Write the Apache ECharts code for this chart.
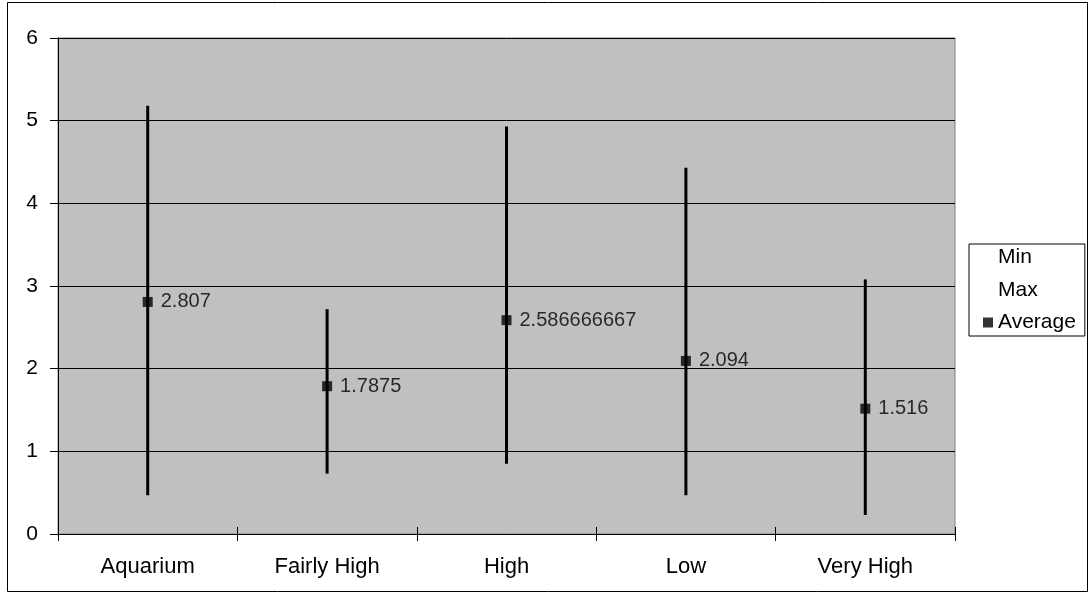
<!DOCTYPE html>
<html>
<head>
<meta charset="utf-8">
<script src="https://cdn.jsdelivr.net/npm/echarts@6/dist/echarts.min.js"></script>
<style>
html,body{margin:0;padding:0;background:#fff;}
#c{width:1091px;height:594px;}
</style>
</head>
<body>
<div id="c"></div>
<script>
const categories = ['Aquarium', 'Fairly High', 'High', 'Low', 'Very High'];
const minVals = [0.47, 0.73, 0.85, 0.47, 0.23];
const maxVals = [5.18, 2.72, 4.93, 4.43, 3.08];
const avgVals = [2.807, 1.7875, 2.586666667, 2.094, 1.516];
const yTicks = [0, 1, 2, 3, 4, 5, 6];

const FONT = 'Liberation Sans, Arial, sans-serif';
const chart = echarts.init(document.getElementById('c'), null, {renderer: 'canvas'});

const option = {
  backgroundColor: '#fff',
  animation: false,
  textStyle: {fontFamily: FONT, color: '#000'},
  graphic: [{
    type: 'rect', silent: true, z: -10,
    shape: {x: 7.5, y: 2.5, width: 1080, height: 589},
    style: {fill: 'none', stroke: '#000', lineWidth: 1}
  }],
  grid: {
    left: 58, top: 38, right: 136, bottom: 60,
    show: true, backgroundColor: '#C0C0C0', borderColor: '#808080', borderWidth: 1
  },
  legend: {
    orient: 'vertical', left: 969, top: 244,
    padding: [3, 9, 3, 14],
    itemGap: 11.5, itemWidth: 10, itemHeight: 10,
    borderColor: '#000', borderWidth: 1, backgroundColor: '#fff',
    textStyle: {fontFamily: FONT, fontSize: 21, lineHeight: 20, color: '#000'},
    data: [
      {name: 'Min', icon: 'rect', itemStyle: {color: 'rgba(0,0,0,0)', borderWidth: 0}},
      {name: 'Max', icon: 'rect', itemStyle: {color: 'rgba(0,0,0,0)', borderWidth: 0}},
      {name: 'Average', icon: 'rect', itemStyle: {color: '#000'}}
    ]
  },
  xAxis: [{
    type: 'category', data: categories, boundaryGap: true,
    axisLine: {show: true, lineStyle: {color: '#000', width: 1}},
    axisTick: {show: true, length: 7, inside: false, lineStyle: {color: '#000'}},
    axisLabel: {fontFamily: FONT, fontSize: 22, color: '#000', margin: 22},
    splitLine: {show: false}
  }, {
    type: 'category', data: categories, boundaryGap: true, position: 'bottom',
    axisLine: {show: false},
    axisTick: {show: true, length: 7, inside: true, lineStyle: {color: '#000'}},
    axisLabel: {show: false},
    splitLine: {show: false}
  }],
  yAxis: {
    type: 'value', min: yTicks[0], max: yTicks[yTicks.length - 1], interval: 1,
    axisLine: {show: true, lineStyle: {color: '#000', width: 1}},
    axisTick: {show: true, length: 8, lineStyle: {color: '#000'}},
    axisLabel: {fontFamily: FONT, fontSize: 21, color: '#000', margin: 20},
    splitLine: {show: true, lineStyle: {color: '#000', width: 1}}
  },
  series: [
    {name: 'Min', type: 'scatter', data: minVals, symbolSize: 0, silent: true,
     itemStyle: {color: 'rgba(0,0,0,0)'}},
    {name: 'Max', type: 'scatter', data: maxVals, symbolSize: 0, silent: true,
     itemStyle: {color: 'rgba(0,0,0,0)'}},
    {name: 'HiLo', type: 'custom', silent: true, z: 3,
     data: categories.map((c, i) => [i, minVals[i], maxVals[i]]),
     renderItem: function (params, api) {
       const x = api.value(0);
       const lo = api.coord([x, api.value(1)]);
       const hi = api.coord([x, api.value(2)]);
       return {type: 'line',
         shape: {x1: lo[0], y1: lo[1], x2: hi[0], y2: hi[1]},
         style: {stroke: '#000', lineWidth: 3}};
     }},
    {name: 'Average', type: 'scatter', data: avgVals, z: 5,
     symbol: 'rect', symbolSize: 10,
     itemStyle: {color: '#000'},
     label: {show: true, position: 'right', distance: 8,
       fontFamily: FONT, fontSize: 20, color: '#000',
       formatter: function (p) { return String(avgVals[p.dataIndex]); }}}
  ]
};
chart.setOption(option);
</script>
</body>
</html>
